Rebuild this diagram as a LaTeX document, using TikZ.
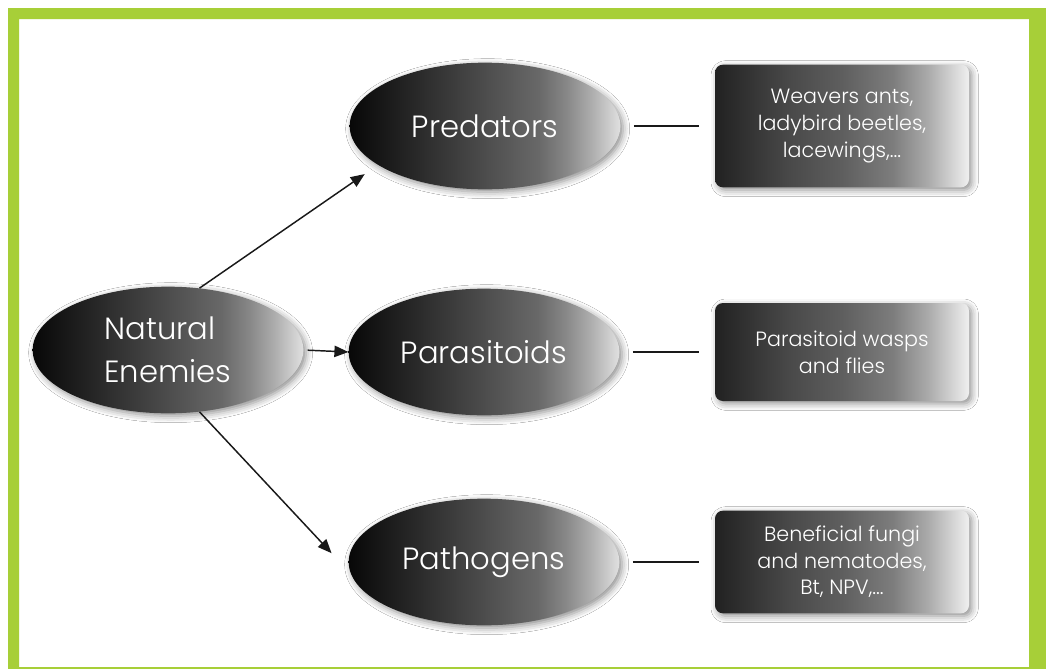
\documentclass[tikz,border=0pt]{standalone}
\usepackage{fontspec}
\setmainfont{Poppins}[UprightFont={* Light}]
\usetikzlibrary{arrows.meta,shapes.geometric,shadows.blur}
\definecolor{framegreen}{RGB}{167,207,56}
\pgfdeclarehorizontalshading{ellsh}{100bp}{color(0bp)=(black!97); color(25bp)=(black!97); color(40bp)=(black!81); color(50bp)=(black!70); color(60bp)=(black!59); color(65bp)=(black!47); color(70bp)=(black!31); color(75bp)=(black!12); color(100bp)=(black!12)}
\pgfdeclarehorizontalshading{boxsh}{100bp}{color(0bp)=(black!87); color(25bp)=(black!87); color(40bp)=(black!71); color(50bp)=(black!63); color(60bp)=(black!51); color(67bp)=(black!33); color(75bp)=(black!6); color(100bp)=(black!6)}
\begin{document}
\begin{tikzpicture}[x=0.75pt,y=-0.75pt,
  ell/.style={ellipse, minimum width=203pt, minimum height=95pt, inner sep=0pt,
    shade, shading=ellsh, text=white, font=\fontsize{23}{32}\selectfont,
    blur shadow={shadow xshift=2pt, shadow yshift=-2pt, shadow blur radius=5pt, shadow opacity=45}},
  infobox/.style={rectangle, rounded corners=6pt, minimum width=190.5pt, inner sep=0pt,
    shade, shading=boxsh, text=white, align=center, font=\fontsize{15.5}{20}\selectfont,
    blur shadow={shadow xshift=2pt, shadow yshift=-2pt, shadow blur radius=5pt, shadow opacity=45}},
  arr/.style={line width=1.1pt, draw=black!90, -{Triangle[length=10.5pt,width=8.5pt]}},
  link/.style={line width=0.9pt, draw=black!90}]
\useasboundingbox (0,0) rectangle (1046,668);
\fill[white] (0,0) rectangle (1046,668);
\fill[framegreen, even odd rule] (8,8) rectangle (1052,680) (19,19) rectangle (1029,667);

\node[ell, align=left] (ne) at (168,350) {Natural\\Enemies};
\node[ell] (pred) at (485,126) {Predators};
\node[ell] (par) at (484,352) {Parasitoids};
\node[ell] (pat) at (484,562) {Pathogens};

\node[infobox, minimum height=92pt] (b1) at (842,126) {Weavers ants,\\ladybird beetles,\\lacewings,...};
\node[infobox, minimum height=73.5pt] (b2) at (842,352) {Parasitoid wasps\\and flies};
\node[infobox, minimum height=77pt] (b3) at (842,562) {Beneficial fungi\\and nematodes,\\Bt, NPV,...};

\draw[arr, shorten >=12pt] (ne.63) -- (pred.200);
\draw[arr, shorten <=3pt] (ne.east) -- (par.west);
\draw[arr, shorten >=21pt] (ne.-63) -- (pat.185);

\draw[link, shorten <=10pt, shorten >=12pt] (pred.east) -- (b1.west);
\draw[link, shorten <=10pt, shorten >=12pt] (par.east) -- (b2.west);
\draw[link, shorten <=10pt, shorten >=12pt] (pat.east) -- (b3.west);
\end{tikzpicture}
\end{document}
